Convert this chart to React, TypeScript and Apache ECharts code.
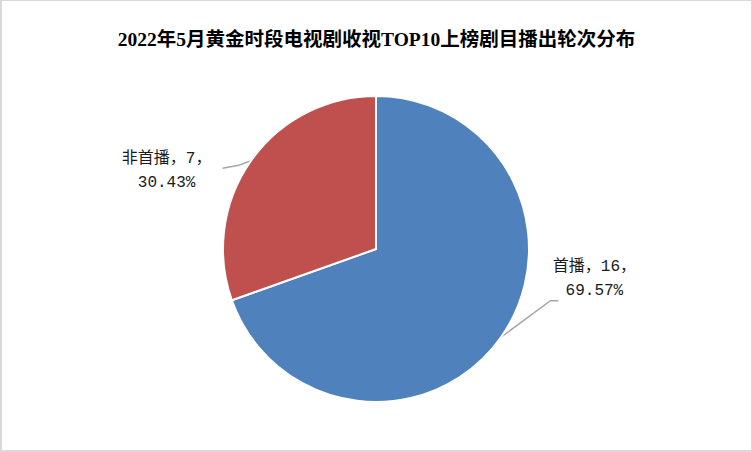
import * as echarts from 'echarts';
import { useEffect, useRef } from 'react';

const titleText = '2022年5月黄金时段电视剧收视TOP10上榜剧目播出轮次分布';
const categories = ['首播', '非首播'];
const counts = [16, 7];
const colors = ['#4F81BD', '#C0504D'];
// label nudges (Excel places these by hand)
const labelShift = [
    [12, -73],
    [-3, 25],
];

const labelFont = "'Liberation Mono', 'Noto Sans CJK SC', monospace";

const App = () => {
    const chartRef = useRef(null);

    useEffect(() => {
        document.body.style.margin = '0';
        const chart = echarts.init(chartRef.current, null, { renderer: 'svg' });

        const option = {
            animation: false,
            backgroundColor: '#fff',
            title: {
                text: titleText,
                left: 'center',
                top: 24,
                textStyle: {
                    fontFamily: "'Liberation Serif', 'Noto Sans CJK SC', serif",
                    fontSize: 19.5,
                    fontWeight: 'bold',
                    color: '#000',
                },
            },
            series: [
                {
                    type: 'pie',
                    center: [374, 248],
                    radius: 153,
                    startAngle: 90,
                    clockwise: true,
                    data: categories.map((name, i) => ({
                        name,
                        value: counts[i],
                        itemStyle: { color: colors[i] },
                    })),
                    itemStyle: { borderColor: '#fff', borderWidth: 2 },
                    label: {
                        show: true,
                        position: 'outside',
                        formatter: '{t|{b}，{c}，}\n{t|{d}%}',
                        rich: {
                            t: {
                                fontFamily: labelFont,
                                fontSize: 16,
                                color: '#1a1a1a',
                                width: 92,
                                align: 'center',
                                lineHeight: 24,
                            },
                        },
                    },
                    labelLine: {
                        show: true,
                        length: 25,
                        length2: 10,
                        lineStyle: { color: '#A6A6A6', width: 1.5 },
                    },
                    labelLayout: (params) => {
                        const [dx, dy] = labelShift[params.dataIndex];
                        const r = params.labelRect;
                        const start = params.labelLinePoints ? params.labelLinePoints[0] : [0, 0];
                        const x = r.x + dx;
                        const y = r.y + dy;
                        let points;
                        if (start[0] > x) {
                            // label sits left of the slice
                            const ex = x + r.width + 10;
                            points = [start, [ex + 16, y + 14], [ex, y + 17]];
                        } else {
                            const ex = x + 10;
                            points = [start, [ex - 8, y + 42], [ex, y + 42]];
                        }
                        return { dx, dy, labelLinePoints: points };
                    },
                },
            ],
        };

        chart.setOption(option);

        return () => {
            chart.dispose();
        };
    }, []);

    return (
        <div
            ref={chartRef}
            style={{
                position: 'absolute',
                left: 0,
                top: 0,
                width: '752px',
                height: '452px',
                boxSizing: 'border-box',
                border: '2px solid #d9d9d9',
                borderTopWidth: 1,
                borderRightWidth: 1,
            }}
        />
    );
};

export default App;
